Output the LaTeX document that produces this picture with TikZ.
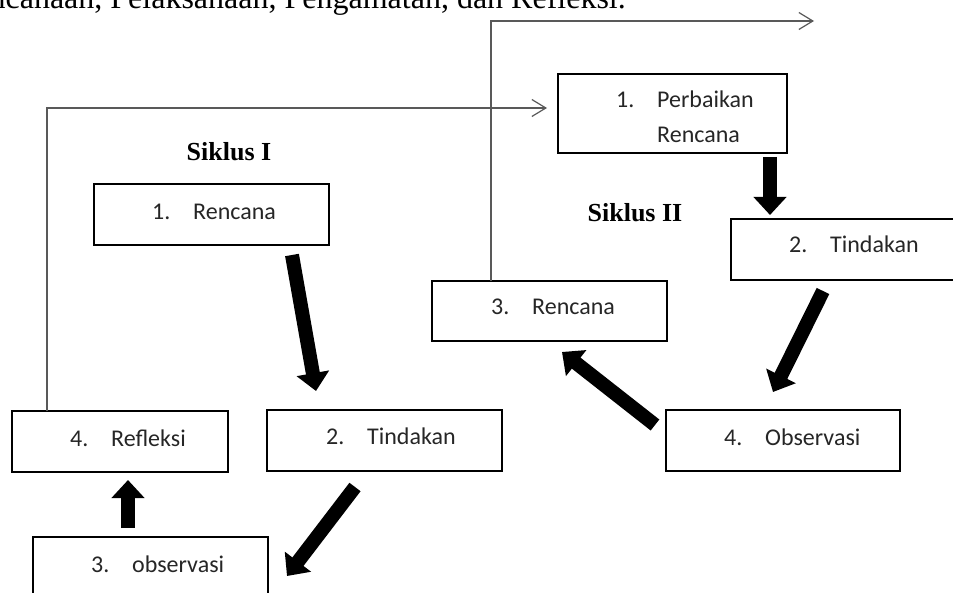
\documentclass[tikz,border=0pt]{standalone}
\usepackage{fontspec}
\setmainfont{Liberation Serif}
\newfontfamily\boxfont{Carlito}
\usetikzlibrary{arrows.meta}
\newcommand{\numlbl}[2]{\makebox[41pt][l]{#1}#2}
\tikzset{
  stepbox/.style={draw=black, line width=2.4pt, outer sep=0pt, inner sep=0pt, anchor=north west},
  boxlabel/.style={anchor=base west, inner sep=0pt, align=left, font=\boxfont\fontsize{24}{35}\selectfont, text=black!85},
  bigarrow/.style={line width=14pt, -{Triangle[length=18pt,width=32pt]}},
  thinline/.style={draw=black!65, line width=1.2pt},
  openarrow/.style={-{Straight Barb[length=14pt,width=17pt,line width=1.2pt]}},
  cyclelabel/.style={inner sep=0pt, font=\bfseries\fontsize{26}{31}\selectfont},
  toptext/.style={anchor=base east, inner sep=0pt, font=\fontsize{32}{38}\selectfont}
}
\begin{document}
\begin{tikzpicture}[x=1pt,y=-1pt]
\useasboundingbox (0,0) rectangle (953,593);
\clip (0,0) rectangle (953,593);

% caption fragment (cut at the top)
\node[toptext] (cap) at (626,8.5) {ncanaan, Pelaksanaan, Pengamatan, dan Refleksi.};

% cycle titles
\node[cyclelabel] (s1) at (229,152) {Siklus I};
\node[cyclelabel] (s2) at (635,213) {Siklus II};

% boxes
\node[stepbox, minimum width=235pt, minimum height=61pt] (b1)   at (94,184)  {};
\node[stepbox, minimum width=235pt, minimum height=61pt] (t1)   at (267,410) {};
\node[stepbox, minimum width=216pt, minimum height=61pt] (ref)  at (12,411)  {};
\node[stepbox, minimum width=235pt, minimum height=61pt] (obs1) at (33,537)  {};
\node[stepbox, minimum width=229pt, minimum height=79pt] (pr)   at (558,74)  {};
\node[stepbox, minimum width=235pt, minimum height=61pt] (t2)   at (731,219) {};
\node[stepbox, minimum width=235pt, minimum height=60pt] (r2)   at (432,281) {};
\node[stepbox, minimum width=234pt, minimum height=61pt] (obs2) at (666,410) {};

% box texts
\node[boxlabel] (b1l)   at (152,220) {\numlbl{1.}{Rencana}};
\node[boxlabel] (t1l)   at (326,444) {\numlbl{2.}{Tindakan}};
\node[boxlabel] (refl)  at (70,446)  {\numlbl{4.}{Refleksi}};
\node[boxlabel] (obs1l) at (91,572)  {\numlbl{3.}{observasi}};
\node[boxlabel] (prl)   at (616,143) {\numlbl{1.}{Perbaikan}\\\hspace*{41pt}Rencana};
\node[boxlabel] (t2l)   at (789,253) {\numlbl{2.}{Tindakan}};
\node[boxlabel] (r2l)   at (491,315) {\numlbl{3.}{Rencana}};
\node[boxlabel] (obs2l) at (724,445) {\numlbl{4.}{Observasi}};

% thin connectors
\coordinate (topend) at (814,21);
\draw[thinline, openarrow] ([xshift=59pt]r2.north west) |- (topend);
\draw[thinline, openarrow] ([xshift=35pt]ref.north west) |- ([shift={(-11,-5.5)}]pr.west);

% thick arrows
\draw[bigarrow] ([shift={(80.5,10)}]b1.south) -- ([shift={(-68.5,-19)}]t1.north);
\draw[bigarrow] ([shift={(-29.5,16)}]t1.south) -- ([shift={(19,8.5)}]obs1.east);
\draw[bigarrow] ([shift={(-22.5,-9)}]obs1.north) -- ([shift={(8,8)}]ref.south);
\draw[bigarrow] ([shift={(97.5,4)}]pr.south) -- ([shift={(-78.5,-4)}]t2.north);
\draw[bigarrow] ([shift={(-25.5,11)}]t2.south) -- ([shift={(-10,-18)}]obs2.north);
\draw[bigarrow] ([shift={(-11,-15.5)}]obs2.west) -- ([shift={(12.5,11)}]r2.south);
\end{tikzpicture}
\end{document}
